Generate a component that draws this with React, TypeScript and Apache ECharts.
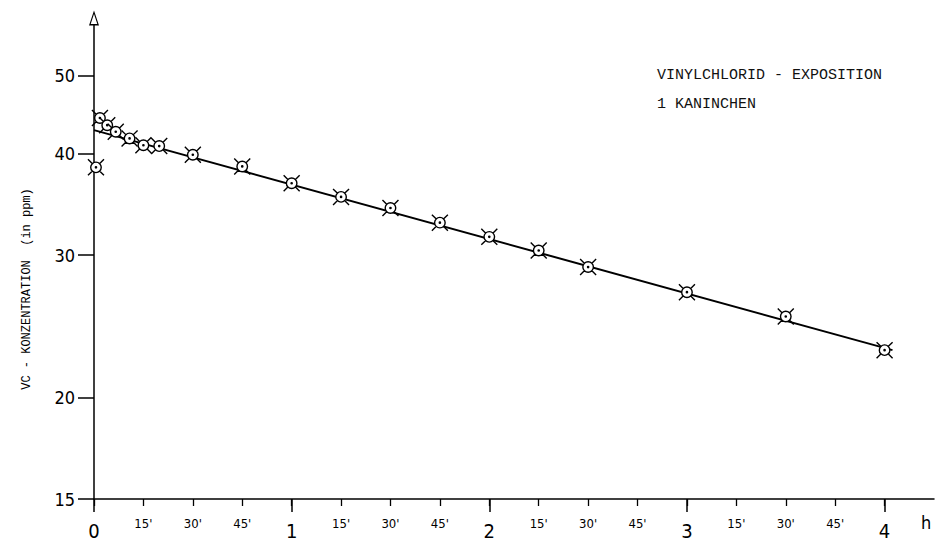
import React, { useEffect, useRef } from 'react';
import * as echarts from 'echarts';

// Measured concentrations (single rabbit), time in hours
const timeHours = [0.01, 0.03, 0.067, 0.11, 0.18, 0.25, 0.33, 0.5, 0.75, 1, 1.25, 1.5, 1.75, 2, 2.25, 2.5, 3, 3.5, 4];
const vcPpm = [38.5, 44.3, 43.4, 42.6, 41.8, 41.0, 40.9, 39.9, 38.6, 36.8, 35.4, 34.3, 32.9, 31.6, 30.4, 29.0, 27.0, 25.2, 22.9];

// Fitted straight line (on log scale)
const fitHours = [0, 4.04];
const fitPpm = [42.8, 22.9];

// Axis ticks / labels
const yTicks = [15, 20, 30, 40, 50];
const hourTicks = [0, 1, 2, 3, 4];
const quarterTicks = [0, 0.25, 0.5, 0.75, 1, 1.25, 1.5, 1.75, 2, 2.25, 2.5, 2.75, 3, 3.25, 3.5, 3.75, 4];
const quarterLabels = ['0', "15'", "30'", "45'", '1', "15'", "30'", "45'", '2', "15'", "30'", "45'", '3', "15'", "30'", "45'", '4'];

const titleText = 'VINYLCHLORID - EXPOSITION';
const subtitleText = '1 KANINCHEN';
const yName = 'VC - KONZENTRATION  (in ppm)';
const xUnit = 'h';

const MARKER =
  'path://M-5,0A5,5,0,1,0,5,0A5,5,0,1,0,-5,0Z' +
  'M-0.6,0A0.6,0.6,0,1,0,0.6,0A0.6,0.6,0,1,0,-0.6,0Z' +
  'M3.6,3.6L7.6,7.6M-3.6,3.6L-7.6,7.6M3.6,-3.6L7.6,-7.6M-3.6,-3.6L-7.6,-7.6';

const ARROW = 'path://M0,0L5,15L-5,15ZM0,3.6L-3.3,13.6L3.3,13.6Z';

const MONO = "'Liberation Mono', 'DejaVu Sans Mono', monospace";
const NARROW = "'DejaVu Sans Condensed', 'Liberation Sans Narrow', 'DejaVu Sans', sans-serif";

export default function App() {
  const ref = useRef<HTMLDivElement>(null);

  useEffect(() => {
    if (!ref.current) return;
    const chart = echarts.init(ref.current, null, { renderer: 'svg' });
    const X_MIN = 0;
    const X_MAX = 4.25;
    const option: any = {
      animation: false,
      backgroundColor: '#fff',
      title: {
        text: titleText,
        subtext: subtitleText,
        left: 657,
        top: 68,
        padding: 0,
        itemGap: 14,
        textStyle: { fontFamily: MONO, fontSize: 15, fontWeight: 'normal', color: '#111' },
        subtextStyle: { fontFamily: MONO, fontSize: 15, color: '#111' },
      },
      graphic: [
        {
          type: 'text',
          x: 27,
          y: 289,
          rotation: Math.PI / 2,
          style: {
            text: yName,
            fontFamily: MONO,
            fontSize: 12,
            fill: '#000',
            align: 'center',
            verticalAlign: 'middle',
          },
        },
      ],
      grid: { left: 94, right: 2, top: 25, bottom: 46, outerBoundsMode: 'none' },
      xAxis: [
        {
          type: 'value',
          position: 'bottom',
          min: X_MIN,
          max: X_MAX,
          name: xUnit,
          nameLocation: 'end',
          nameGap: -8,
          nameTextStyle: {
            fontFamily: NARROW,
            fontSize: 18,
            color: '#000',
            align: 'center',
            verticalAlign: 'top',
            padding: [14, 0, 0, 0],
          },
          axisLine: { show: true, lineStyle: { color: '#000', width: 1.5 } },
          axisTick: {
            show: true,
            customValues: quarterTicks,
            length: 7,
            lineStyle: { color: '#000', width: 1.3 },
          },
          axisLabel: {
            show: true,
            customValues: quarterTicks,
            margin: 18,
            color: '#000',
            formatter: (v: number) => {
              const i = quarterTicks.indexOf(v);
              const lbl = i >= 0 ? quarterLabels[i] : '';
              return hourTicks.indexOf(v) >= 0 ? '{h|' + lbl + '}' : '{m|' + lbl + '}';
            },
            rich: {
              h: { fontSize: 20, fontFamily: NARROW, color: '#000', padding: [4, 0, 0, 0] },
              m: { fontSize: 13, fontFamily: NARROW, color: '#000' },
            },
          },
          splitLine: { show: false },
        },
        {
          type: 'value',
          position: 'bottom',
          min: X_MIN,
          max: X_MAX,
          axisLine: { show: false },
          axisTick: {
            show: true,
            customValues: hourTicks,
            length: 13,
            lineStyle: { color: '#000', width: 1.5 },
          },
          axisLabel: { show: false },
          splitLine: { show: false },
        },
      ],
      yAxis: {
        type: 'log',
        logBase: 10,
        min: 15,
        max: 57.7,
        axisLine: {
          show: true,
          symbol: ['none', ARROW],
          symbolSize: [10, 15],
          symbolOffset: [0, 7],
          lineStyle: { color: '#000', width: 1.5 },
        },
        axisTick: {
          show: true,
          customValues: yTicks,
          length: 16,
          lineStyle: { color: '#000', width: 1.5 },
        },
        axisLabel: {
          show: true,
          customValues: yTicks,
          margin: 19,
          fontSize: 18,
          fontFamily: NARROW,
          color: '#000',
        },
        splitLine: { show: false },
        minorTick: { show: false },
      },
      series: [
        {
          type: 'line',
          data: fitHours.map((t, i) => [t, fitPpm[i]]),
          showSymbol: false,
          symbol: 'none',
          lineStyle: { color: '#000', width: 2 },
          z: 1,
          silent: true,
        },
        {
          type: 'scatter',
          data: timeHours.map((t, i) => [t, vcPpm[i]]),
          symbol: MARKER,
          symbolSize: 16,
          itemStyle: { color: '#fff', borderColor: '#000', borderWidth: 1.4, opacity: 1 },
          z: 3,
        },
      ],
    };
    chart.setOption(option);
    return () => chart.dispose();
  }, []);

  return (
    <div
      ref={ref}
      style={{ position: 'fixed', left: 0, top: 0, width: 936, height: 545, background: '#fff' }}
    />
  );
}
